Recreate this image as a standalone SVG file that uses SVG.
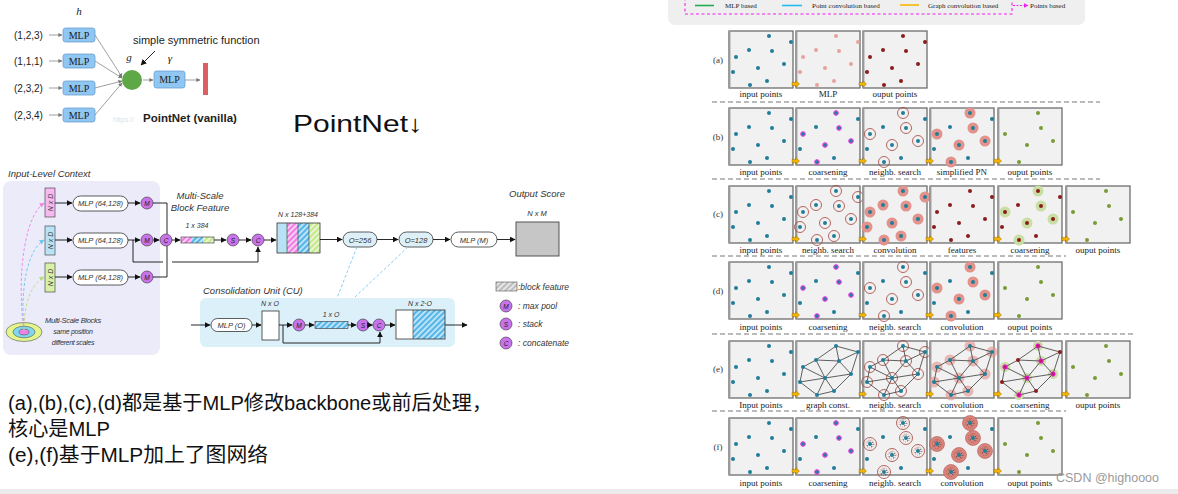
<svg xmlns="http://www.w3.org/2000/svg" xmlns:xlink="http://www.w3.org/1999/xlink" width="1178" height="494" viewBox="0 0 1178 494">
<style>
.sans{font-family:"Liberation Sans",Arial,sans-serif}
.it{font-family:"Liberation Sans",Arial,sans-serif;font-style:italic;fill:#333}
.ser{font-family:"Liberation Serif","Times New Roman",serif;fill:#222}
.lbl{font-family:"Liberation Serif","Times New Roman",serif;font-size:9px;fill:#222;text-anchor:middle}
.rowl{font-family:"Liberation Serif","Times New Roman",serif;font-size:9px;fill:#333;text-anchor:middle}
.mlpb{fill:#8fc6f2;stroke:#6a9fd0;stroke-width:0.8}
.thin{stroke:#888;stroke-width:0.8;fill:none}
.blk{stroke:#111;stroke-width:0.9;fill:none}
.pill{fill:#fff;stroke:#333;stroke-width:0.8}
.pillb{fill:#ddf0f8;stroke:#333;stroke-width:0.8}
.circ{fill:#c873ea;stroke:#333;stroke-width:0.6}
.cl{font-family:"Liberation Sans",Arial,sans-serif;font-size:6.5px;fill:#222;text-anchor:middle;font-style:italic}
.t{fill:#1f7f99}
.pk{fill:#e8a29d}
.dr{fill:#8a1c1c}
.gr{fill:#7a9a36}
.ring{fill:none;stroke:#a5413b;stroke-width:0.8}
.disc{fill:#e3928c}
.cjk{font-family:"Liberation Sans","Noto Sans CJK SC",sans-serif;font-size:20px;fill:#111}
</style>
<defs>
<marker id="ah" viewBox="0 0 10 10" refX="9" refY="5" markerWidth="6" markerHeight="6" orient="auto" markerUnits="userSpaceOnUse"><path d="M0,0 L10,5 L0,10z" fill="#111"/></marker>
<marker id="ahg" viewBox="0 0 10 10" refX="9" refY="5" markerWidth="4" markerHeight="4" orient="auto" markerUnits="userSpaceOnUse"><path d="M0,0 L10,5 L0,10z" fill="#777"/></marker>
<marker id="ahm" viewBox="0 0 10 10" refX="9" refY="5" markerWidth="5" markerHeight="5" orient="auto" markerUnits="userSpaceOnUse"><path d="M0,0 L10,5 L0,10z" fill="#ee22ee"/></marker>
<marker id="ahp" viewBox="0 0 10 10" refX="9" refY="5" markerWidth="5" markerHeight="5" orient="auto" markerUnits="userSpaceOnUse"><path d="M0,0 L10,5 L0,10z" fill="#f27fe6"/></marker>
<marker id="ahb" viewBox="0 0 10 10" refX="9" refY="5" markerWidth="5" markerHeight="5" orient="auto" markerUnits="userSpaceOnUse"><path d="M0,0 L10,5 L0,10z" fill="#6cc6ee"/></marker>
<marker id="ahl" viewBox="0 0 10 10" refX="9" refY="5" markerWidth="5" markerHeight="5" orient="auto" markerUnits="userSpaceOnUse"><path d="M0,0 L10,5 L0,10z" fill="#b8dc78"/></marker>
<pattern id="hpk" width="4" height="4" patternUnits="userSpaceOnUse" patternTransform="rotate(45)"><rect width="4" height="4" fill="#f07ee2"/><rect width="1.6" height="4" fill="#fff" opacity="0.75"/></pattern>
<pattern id="hbl" width="4" height="4" patternUnits="userSpaceOnUse" patternTransform="rotate(45)"><rect width="4" height="4" fill="#55b6ea"/><rect width="1.6" height="4" fill="#fff" opacity="0.75"/></pattern>
<pattern id="hgn" width="4" height="4" patternUnits="userSpaceOnUse" patternTransform="rotate(45)"><rect width="4" height="4" fill="#c6e88c"/><rect width="1.6" height="4" fill="#fff" opacity="0.75"/></pattern>
<pattern id="hgy" width="4" height="4" patternUnits="userSpaceOnUse" patternTransform="rotate(45)"><rect width="4" height="4" fill="#bdbdbd"/><rect width="1.6" height="4" fill="#fff" opacity="0.75"/></pattern>

<!-- panel background -->
<g id="bg"><rect x="0" y="0" width="64" height="57" fill="#f1f1f1" stroke="#6e6e6e" stroke-width="1.3"/><rect x="-0.6" y="0" width="2" height="57" fill="#9a9a9a"/></g>
<g id="ya"><path d="M0,-1.6 L4,-1.6 L4,-3.2 L7.5,0 L4,3.2 L4,1.6 L0,1.6z" fill="#f4b300" stroke="#7a5c00" stroke-width="0.4"/></g>

<!-- point sets -->
<g id="teal"><circle class="t" cx="40" cy="5" r="2"/><circle class="t" cx="62" cy="11" r="2"/><circle class="t" cx="20" cy="19" r="2"/><circle class="t" cx="43" cy="20" r="2"/><circle class="t" cx="7" cy="26" r="2"/><circle class="t" cx="55" cy="33" r="2"/><circle class="t" cx="29" cy="37" r="2"/><circle class="t" cx="4" cy="41" r="2"/><circle class="t" cx="21" cy="54" r="2"/><circle class="t" cx="38" cy="50" r="2"/></g>
<g id="pink"><circle class="pk" cx="40" cy="5" r="2"/><circle class="pk" cx="62" cy="11" r="2"/><circle class="pk" cx="20" cy="19" r="2"/><circle class="pk" cx="43" cy="20" r="2"/><circle class="pk" cx="7" cy="26" r="2"/><circle class="pk" cx="55" cy="33" r="2"/><circle class="pk" cx="29" cy="37" r="2"/><circle class="pk" cx="4" cy="41" r="2"/><circle class="pk" cx="21" cy="54" r="2"/><circle class="pk" cx="38" cy="50" r="2"/></g>
<g id="red"><circle class="dr" cx="40" cy="5" r="2"/><circle class="dr" cx="62" cy="11" r="2"/><circle class="dr" cx="20" cy="19" r="2"/><circle class="dr" cx="43" cy="20" r="2"/><circle class="dr" cx="7" cy="26" r="2"/><circle class="dr" cx="55" cy="33" r="2"/><circle class="dr" cx="29" cy="37" r="2"/><circle class="dr" cx="4" cy="41" r="2"/><circle class="dr" cx="21" cy="54" r="2"/><circle class="dr" cx="38" cy="50" r="2"/></g>
<g id="green"><circle class="gr" cx="40" cy="5" r="2"/><circle class="gr" cx="43" cy="20" r="2"/><circle class="gr" cx="7" cy="26" r="2"/><circle class="gr" cx="55" cy="33" r="2"/><circle class="gr" cx="29" cy="37" r="2"/><circle class="gr" cx="21" cy="54" r="2"/></g>
<g id="cmag"><use href="#teal"/><g fill="none" stroke="#e21ee2" stroke-width="1"><circle cx="40" cy="5" r="2.3"/><circle cx="43" cy="20" r="2.3"/><circle cx="7" cy="26" r="2.3"/><circle cx="55" cy="33" r="2.3"/><circle cx="29" cy="37" r="2.3"/><circle cx="21" cy="54" r="2.3"/></g></g>
<g id="ringc"><circle class="ring" cx="40" cy="5" r="5.5"/><circle class="ring" cx="43" cy="20" r="5.5"/><circle class="ring" cx="7" cy="26" r="5.5"/><circle class="ring" cx="55" cy="33" r="5.5"/><circle class="ring" cx="29" cy="37" r="5.5"/><circle class="ring" cx="21" cy="54" r="5.5"/></g>
<g id="discc"><circle class="disc" cx="40" cy="5" r="5.5"/><circle class="disc" cx="43" cy="20" r="5.5"/><circle class="disc" cx="7" cy="26" r="5.5"/><circle class="disc" cx="55" cy="33" r="5.5"/><circle class="disc" cx="29" cy="37" r="5.5"/><circle class="disc" cx="21" cy="54" r="5.5"/></g>
<g id="ringa"><use href="#ringc"/><circle class="ring" cx="62" cy="11" r="5.5"/><circle class="ring" cx="20" cy="19" r="5.5"/><circle class="ring" cx="4" cy="41" r="5.5"/><circle class="ring" cx="38" cy="50" r="5.5"/></g>
<g id="disca"><use href="#discc"/><circle class="disc" cx="62" cy="11" r="5.5"/><circle class="disc" cx="20" cy="19" r="5.5"/><circle class="disc" cx="4" cy="41" r="5.5"/><circle class="disc" cx="38" cy="50" r="5.5"/></g>
<g id="nbrc"><use href="#ringc"/><use href="#teal"/></g>
<g id="dc"><use href="#discc"/><use href="#teal"/></g>
<g id="nbra"><use href="#ringa"/><use href="#teal"/></g>
<g id="dca"><use href="#disca"/><use href="#teal"/></g>
<g id="cgr"><g fill="#c9dea3"><circle cx="40" cy="5" r="5.5"/><circle cx="43" cy="20" r="5.5"/><circle cx="7" cy="26" r="5.5"/><circle cx="55" cy="33" r="5.5"/><circle cx="29" cy="37" r="5.5"/><circle cx="21" cy="54" r="5.5"/></g><use href="#red"/></g>
<path id="edges" d="M40,5L62,11 M40,5L20,19 M40,5L43,20 M62,11L43,20 M62,11L55,33 M20,19L43,20 M20,19L7,26 M20,19L29,37 M43,20L29,37 M43,20L55,33 M7,26L29,37 M7,26L4,41 M29,37L4,41 M29,37L55,33 M29,37L38,50 M29,37L21,54 M4,41L21,54 M21,54L38,50 M38,50L55,33" fill="none" stroke="#3a3a3a" stroke-width="0.8"/>
<g id="graph"><use href="#edges"/><use href="#teal"/></g>
<g id="gnbr"><use href="#ringa"/><use href="#edges"/><use href="#teal"/></g>
<g id="gdisc"><g opacity="0.6"><use href="#disca"/></g><use href="#edges"/><use href="#teal"/></g>
<g id="gcoarse"><g fill="#c9dea3"><circle cx="40" cy="5" r="5"/><circle cx="43" cy="20" r="5"/><circle cx="7" cy="26" r="5"/><circle cx="55" cy="33" r="5"/><circle cx="29" cy="37" r="5"/><circle cx="21" cy="54" r="5"/></g><use href="#edges"/><use href="#red"/><g fill="#c0186a" stroke="#ee22ee" stroke-width="1"><circle cx="40" cy="5" r="2.2"/><circle cx="43" cy="20" r="2.2"/><circle cx="7" cy="26" r="2.2"/><circle cx="55" cy="33" r="2.2"/><circle cx="29" cy="37" r="2.2"/><circle cx="21" cy="54" r="2.2"/></g></g>
<g id="fdots"><circle r="0.5" cx="-2" cy="-2" fill="#333"/><circle r="0.5" cx="2.3" cy="-1.5" fill="#333"/><circle r="0.5" cx="-2.5" cy="1.8" fill="#333"/><circle r="0.5" cx="1.8" cy="2.4" fill="#333"/><circle r="0.5" cx="0" cy="-3" fill="#333"/><circle r="0.5" cx="3" cy="0.6" fill="#333"/></g>
<g id="fring"><circle class="ring" r="6.5"/><circle r="4" fill="none" stroke="#a5413b" stroke-width="0.5" stroke-dasharray="1,1"/><use href="#fdots"/></g>
<g id="fdisc"><circle r="7.5" fill="#d9847d" stroke="#b0554f" stroke-width="0.6"/><circle r="4.5" fill="none" stroke="#8a3a35" stroke-width="0.5" stroke-dasharray="1,1"/><use href="#fdots"/></g>
<g id="fnbr"><use href="#teal"/><use href="#fring" x="40" y="5"/><use href="#fring" x="43" y="20"/><use href="#fring" x="7" y="26"/><use href="#fring" x="55" y="33"/><use href="#fring" x="29" y="37"/><use href="#fring" x="21" y="54"/></g>
<g id="fconv"><use href="#fdisc" x="40" y="5"/><use href="#fdisc" x="43" y="20"/><use href="#fdisc" x="7" y="26"/><use href="#fdisc" x="55" y="33"/><use href="#fdisc" x="29" y="37"/><use href="#fdisc" x="21" y="54"/><use href="#teal"/></g>
</defs>

<rect width="1178" height="494" fill="#fff"/>
<rect x="0" y="489" width="1178" height="5" fill="#ebebeb"/>

<!-- ============ PointNet vanilla ============ -->
<g id="pointnet-vanilla">
<text class="ser" x="79" y="15" font-size="11" font-style="italic" text-anchor="middle">h</text>
<g class="sans" font-size="10" fill="#222">
<text x="14" y="39">(1,2,3)</text><text x="14" y="65">(1,1,1)</text><text x="14" y="92">(2,3,2)</text><text x="14" y="119">(2,3,4)</text>
</g>
<g class="thin" marker-end="url(#ahg)"><path d="M49,35H62"/><path d="M49,61H62"/><path d="M49,88H62"/><path d="M49,115H62"/></g>
<g id="mlp1"><rect class="mlpb" x="63" y="28" width="32" height="14" rx="2.5"/><text class="ser" x="79" y="39" font-size="10" text-anchor="middle">MLP</text></g>
<g id="mlp2"><rect class="mlpb" x="63" y="54" width="32" height="14" rx="2.5"/><text class="ser" x="79" y="65" font-size="10" text-anchor="middle">MLP</text></g>
<g id="mlp3"><rect class="mlpb" x="63" y="81" width="32" height="14" rx="2.5"/><text class="ser" x="79" y="92" font-size="10" text-anchor="middle">MLP</text></g>
<g id="mlp4"><rect class="mlpb" x="63" y="108" width="32" height="14" rx="2.5"/><text class="ser" x="79" y="119" font-size="10" text-anchor="middle">MLP</text></g>
<g class="thin" marker-end="url(#ahg)"><path d="M95,35L122,77"/><path d="M95,61L122,78"/><path d="M95,88L122,81"/><path d="M95,115L122,83"/></g>
<circle id="g-node" cx="132" cy="80" r="10" fill="#5ea847"/>
<text class="ser" x="129" y="61" font-size="11" font-style="italic" text-anchor="middle">g</text>
<text class="ser" x="170" y="62" font-size="11" font-style="italic" text-anchor="middle">γ</text>
<text class="sans" x="133" y="44" font-size="11" fill="#222">simple symmetric function</text>
<path d="M155,51L141,65" class="blk" stroke-width="1.3" marker-end="url(#ah)"/>
<path d="M143,80H153" class="thin" marker-end="url(#ahg)"/>
<g id="mlp5"><rect class="mlpb" x="154" y="71" width="31" height="17" rx="2.5"/><text class="ser" x="169.5" y="83" font-size="10" text-anchor="middle">MLP</text></g>
<path d="M185,80H200" class="thin" marker-end="url(#ahg)"/>
<rect x="203" y="63" width="5" height="32" fill="#dc5f66"/>
<text class="sans" x="113" y="122" font-size="7" fill="#e2e2e2">https://</text>
<text class="sans" x="143" y="122" font-size="11.5" font-weight="bold" fill="#222">PointNet (vanilla)</text>
</g>

<text class="sans" x="293" y="132" font-size="24" fill="#111" textLength="130" lengthAdjust="spacingAndGlyphs">PointNet↓</text>

<!-- ============ Multi-scale diagram ============ -->
<g id="input-level">
<text class="it" x="8" y="177" font-size="9.5">Input-Level Context</text>
<rect x="3" y="181" width="157" height="174" rx="8" fill="#ebebfa"/>
<g id="nxd1"><rect x="45" y="188" width="10" height="29" fill="#f6b9f0" stroke="#333" stroke-width="0.6"/><text class="it" font-size="7" text-anchor="middle" transform="translate(52.5,202.5) rotate(-90)">N x D</text></g>
<g id="nxd2"><rect x="45" y="226" width="10" height="29" fill="#b9e3f5" stroke="#333" stroke-width="0.6"/><text class="it" font-size="7" text-anchor="middle" transform="translate(52.5,240.5) rotate(-90)">N x D</text></g>
<g id="nxd3"><rect x="45" y="263" width="10" height="29" fill="#d9f0a9" stroke="#333" stroke-width="0.6"/><text class="it" font-size="7" text-anchor="middle" transform="translate(52.5,277.5) rotate(-90)">N x D</text></g>
<g id="mlpa"><rect class="pill" x="73" y="196" width="55" height="15" rx="7.5"/><text class="it" x="100.5" y="206" font-size="7.5" text-anchor="middle">MLP (64,128)</text></g>
<g id="mlpb"><rect class="pill" x="73" y="233" width="55" height="15" rx="7.5"/><text class="it" x="100.5" y="243" font-size="7.5" text-anchor="middle">MLP (64,128)</text></g>
<g id="mlpc"><rect class="pill" x="73" y="270" width="55" height="15" rx="7.5"/><text class="it" x="100.5" y="280" font-size="7.5" text-anchor="middle">MLP (64,128)</text></g>
<g id="m1"><circle class="circ" cx="147" cy="203" r="6"/><text class="cl" x="147" y="205.5">M</text></g>
<g id="m2"><circle class="circ" cx="147" cy="240" r="6"/><text class="cl" x="147" y="242.5">M</text></g>
<g id="m3"><circle class="circ" cx="147" cy="277" r="6"/><text class="cl" x="147" y="279.5">M</text></g>
<g id="msb">
<ellipse cx="24" cy="332" rx="18" ry="9.5" fill="#e4f58c" stroke="#555" stroke-width="0.6"/>
<ellipse cx="24" cy="332" rx="11" ry="5.8" fill="#7fd6ef" stroke="#555" stroke-width="0.6"/>
<ellipse cx="24" cy="332" rx="5" ry="2.8" fill="#f27fe6" stroke="#555" stroke-width="0.6"/>
</g>
<text class="it" x="73" y="323" font-size="7.5" text-anchor="middle" letter-spacing="-0.3">Multi-Scale Blocks</text>
<text class="it" x="73" y="334" font-size="7" text-anchor="middle" fill="#555" letter-spacing="-0.3">same position</text>
<text class="it" x="73" y="345" font-size="7" text-anchor="middle" fill="#555" letter-spacing="-0.3">different scales</text>
</g>

<g id="msbf">
<text class="it" x="200" y="199" font-size="9.5" text-anchor="middle">Multi-Scale</text>
<text class="it" x="200" y="211" font-size="9.5" text-anchor="middle">Block Feature</text>
<g id="c1"><circle class="circ" cx="166" cy="240" r="6"/><text class="cl" x="166" y="242.5">C</text></g>
<text class="it" x="197" y="228" font-size="7" text-anchor="middle">1 x 384</text>
<rect x="181" y="237" width="11" height="6" fill="url(#hpk)"/><rect x="192" y="237" width="11" height="6" fill="url(#hbl)"/><rect x="203" y="237" width="11" height="6" fill="url(#hgn)"/>
<rect x="181" y="237" width="33" height="6" fill="none" stroke="#333" stroke-width="0.6"/>
<g id="s1"><circle class="circ" cx="233" cy="240" r="6"/><text class="cl" x="233" y="242.5">S</text></g>
<g id="c2"><circle class="circ" cx="258" cy="240" r="6"/><text class="cl" x="258" y="242.5">C</text></g>
<text class="it" x="298" y="217" font-size="7" text-anchor="middle">N x 128+384</text>
<rect x="277" y="223" width="10" height="30" fill="#b9e3f5"/><rect x="287" y="223" width="11" height="30" fill="url(#hpk)"/><rect x="298" y="223" width="11" height="30" fill="url(#hbl)"/><rect x="309" y="223" width="11" height="30" fill="url(#hgn)"/>
<path d="M287,223V253M298,223V253M309,223V253" stroke="#333" stroke-width="0.6"/>
<rect x="277" y="223" width="43" height="30" fill="none" stroke="#333" stroke-width="0.8"/>
<g id="o256"><rect class="pillb" x="343" y="232" width="34" height="15" rx="7.5"/><text class="it" x="360" y="242.5" font-size="7.5" text-anchor="middle">O=256</text></g>
<g id="o128"><rect class="pillb" x="399" y="232" width="34" height="15" rx="7.5"/><text class="it" x="416" y="242.5" font-size="7.5" text-anchor="middle">O=128</text></g>
<g id="mlpm"><rect class="pill" x="451" y="232" width="46" height="15" rx="7.5"/><text class="it" x="474" y="242.5" font-size="7.5" text-anchor="middle">MLP (M)</text></g>
<text class="it" x="537" y="197" font-size="9.5" text-anchor="middle">Output Score</text>
<text class="it" x="537" y="216" font-size="7.5" text-anchor="middle">N x M</text>
<rect id="out" x="516" y="222" width="43" height="34" fill="#c6c6c6" stroke="#444" stroke-width="0.9"/>
</g>

<g id="cu">
<text class="it" x="203" y="294" font-size="9.5">Consolidation Unit (CU)</text>
<rect x="200" y="298" width="255" height="49" rx="6" fill="#dcf0fa"/>
<g id="mlpo"><rect class="pill" x="211" y="318.5" width="41" height="13" rx="6.5"/><text class="it" x="231.5" y="328" font-size="7.5" text-anchor="middle">MLP (O)</text></g>
<text class="it" x="270" y="306" font-size="7" text-anchor="middle">N x O</text>
<rect x="262" y="311" width="17" height="29" fill="#fff" stroke="#333" stroke-width="0.8"/>
<g id="m4"><circle class="circ" cx="299" cy="325" r="6"/><text class="cl" x="299" y="327.5">M</text></g>
<text class="it" x="331" y="317" font-size="7" text-anchor="middle">1 x O</text>
<rect x="315" y="321.5" width="33" height="7" fill="url(#hbl)" stroke="#333" stroke-width="0.6"/>
<g id="s2"><circle class="circ" cx="363" cy="325" r="6"/><text class="cl" x="363" y="327.5">S</text></g>
<g id="c3"><circle class="circ" cx="379" cy="325" r="6"/><text class="cl" x="379" y="327.5">C</text></g>
<text class="it" x="420" y="306" font-size="7" text-anchor="middle">N x 2·O</text>
<rect x="396" y="310" width="17" height="29" fill="#fff"/><rect x="413" y="310" width="32" height="29" fill="url(#hbl)"/>
<rect x="396" y="310" width="49" height="29" fill="none" stroke="#333" stroke-width="0.8"/>
<path d="M413,310V339" stroke="#333" stroke-width="0.6"/>
</g>

<g id="legend-left">
<rect x="496" y="282" width="21" height="9" fill="url(#hgy)" stroke="#555" stroke-width="0.6"/>
<text class="it" x="518" y="290" font-size="8.5">:block feature</text>
<g><circle class="circ" cx="506" cy="306" r="6"/><text class="cl" x="506" y="308.5">M</text></g>
<text class="it" x="518" y="309" font-size="8.5">: max pool</text>
<g><circle class="circ" cx="506" cy="324" r="6"/><text class="cl" x="506" y="326.5">S</text></g>
<text class="it" x="518" y="327" font-size="8.5">: stack</text>
<g><circle class="circ" cx="506" cy="343" r="6"/><text class="cl" x="506" y="345.5">C</text></g>
<text class="it" x="518" y="346" font-size="8.5">: concatenate</text>
</g>

<g id="connectors">
<g stroke-dasharray="3,2" fill="none" stroke-width="0.9">
<path d="M24,331 C16,270 26,215 44,203" stroke="#f27fe6" marker-end="url(#ahp)"/>
<path d="M24,331 C20,285 28,250 44,240" stroke="#6cc6ee" marker-end="url(#ahb)"/>
<path d="M24,331 C24,305 30,285 44,277" stroke="#b8dc78" marker-end="url(#ahl)"/>
</g>
<g class="blk" marker-end="url(#ah)">
<path d="M55,203H72"/><path d="M55,240H72"/><path d="M55,277H72"/>
<path d="M128,203H140"/><path d="M128,240H140"/><path d="M128,277H140"/>
<path d="M153,240H159"/>
<path d="M172,240H180"/>
<path d="M214,240H226"/>
<path d="M239,240H251"/>
<path d="M264,240H276"/>
<path d="M320,239.5H342"/>
<path d="M377,239.5H398"/>
<path d="M433,239.5H450"/>
<path d="M497,239.5H515"/>
<path d="M258,262V247"/>
<path d="M191,325H210"/>
<path d="M252,325H261"/>
<path d="M279,325H292"/>
<path d="M305,325H314"/>
<path d="M348,325H356"/>
<path d="M369,325H372.5"/>
<path d="M385,325H395"/>
<path d="M445,325H467"/>
<path d="M380,343V332"/>
</g>
<g class="blk">
<path d="M153,203H167V234"/>
<path d="M153,277H167V246"/>
<path d="M133,240V262H163M172,262H258"/>
<path d="M283,325V343H380"/>
</g>
<g stroke="#7cc8f0" stroke-width="0.9" stroke-dasharray="3,2" fill="none">
<path d="M357,247L337,298"/><path d="M408,247L355,297"/>
</g>
</g>

<!-- bottom-left CJK text -->
<text class="cjk" x="8" y="410" textLength="484" lengthAdjust="spacingAndGlyphs">(a),(b),(c),(d)都是基于MLP修改backbone或前后处理，</text>
<text class="cjk" x="8" y="436" textLength="102" lengthAdjust="spacingAndGlyphs">核心是MLP</text>
<text class="cjk" x="8" y="462" textLength="260" lengthAdjust="spacingAndGlyphs">(e),(f)基于MLP加上了图网络</text>

<!-- ============ right: legend ============ -->
<g id="legend-right">
<rect x="668" y="-10" width="417" height="35" rx="7" fill="#efefef"/>
<rect x="685" y="-6" width="327" height="20" fill="none" stroke="#ee22ee" stroke-width="1.1" stroke-dasharray="3,2.5"/>
<path d="M695,5.5H714" stroke="#22aa55" stroke-width="1.6"/>
<text class="ser" x="725" y="8" font-size="7" fill="#444">MLP based</text>
<path d="M782,5.5H802" stroke="#22bbee" stroke-width="1.6"/>
<text class="ser" x="812" y="8" font-size="7" fill="#444">Point convolution based</text>
<path d="M900,5H919" stroke="#f5b800" stroke-width="1.6"/>
<text class="ser" x="928" y="8" font-size="7" fill="#444">Graph convolution based</text>
<path d="M1013,5.5H1028" stroke="#ee22ee" stroke-width="1" stroke-dasharray="2,1.5" marker-end="url(#ahm)"/>
<text class="ser" x="1030" y="8" font-size="7" fill="#444">Points based</text>
</g>

<!-- separators -->
<g stroke="#777" stroke-width="1" stroke-dasharray="5,3">
<path d="M712,102H1100"/><path d="M712,179H1100"/><path d="M712,256H1066"/><path d="M712,334H1133"/><path d="M712,411H1066"/>
</g>

<!-- row (a) -->
<g id="row-a">
<text class="rowl" x="718" y="63">(a)</text>
<use href="#bg" x="729" y="31"/><use href="#teal" x="729" y="31"/>
<use href="#bg" x="796" y="31"/><use href="#pink" x="796" y="31"/>
<use href="#bg" x="863" y="31"/><use href="#red" x="863" y="31"/>
<use href="#ya" x="792" y="84"/><use href="#ya" x="859" y="84"/>
<text class="lbl" x="761" y="97">input points</text><text class="lbl" x="828" y="97">MLP</text><text class="lbl" x="895" y="97">ouput points</text>
</g>

<!-- row (b) -->
<g id="row-b">
<text class="rowl" x="718" y="140">(b)</text>
<use href="#bg" x="729" y="108"/><use href="#teal" x="729" y="108"/>
<use href="#bg" x="796" y="108"/><use href="#cmag" x="796" y="108"/>
<use href="#bg" x="863" y="108"/><use href="#nbrc" x="863" y="108"/>
<use href="#bg" x="930" y="108"/><use href="#dc" x="930" y="108"/>
<use href="#bg" x="998" y="108"/><use href="#green" x="998" y="108"/>
<use href="#ya" x="792" y="161"/><use href="#ya" x="859" y="161"/><use href="#ya" x="926" y="161"/><use href="#ya" x="994" y="161"/>
<text class="lbl" x="761" y="175">input points</text><text class="lbl" x="828" y="175">coarsening</text><text class="lbl" x="895" y="175">neighb. search</text><text class="lbl" x="962" y="175">simplified PN</text><text class="lbl" x="1030" y="175">ouput points</text>
</g>

<!-- row (c) -->
<g id="row-c">
<text class="rowl" x="718" y="217">(c)</text>
<use href="#bg" x="729" y="186"/><use href="#teal" x="729" y="186"/>
<use href="#bg" x="796" y="186"/><use href="#nbra" x="796" y="186"/>
<use href="#bg" x="863" y="186"/><use href="#dca" x="863" y="186"/>
<use href="#bg" x="930" y="186"/><use href="#red" x="930" y="186"/>
<use href="#bg" x="998" y="186"/><use href="#cgr" x="998" y="186"/>
<use href="#bg" x="1066" y="186"/><use href="#green" x="1066" y="186"/>
<use href="#ya" x="792" y="239"/><use href="#ya" x="859" y="239"/><use href="#ya" x="926" y="239"/><use href="#ya" x="994" y="239"/><use href="#ya" x="1062" y="239"/>
<text class="lbl" x="761" y="253">input points</text><text class="lbl" x="828" y="253">neighb. search</text><text class="lbl" x="895" y="253">convolution</text><text class="lbl" x="962" y="253">features</text><text class="lbl" x="1030" y="253">coarsening</text><text class="lbl" x="1098" y="253">ouput points</text>
</g>

<!-- row (d) -->
<g id="row-d">
<text class="rowl" x="718" y="294">(d)</text>
<use href="#bg" x="729" y="262"/><use href="#teal" x="729" y="262"/>
<use href="#bg" x="796" y="262"/><use href="#cmag" x="796" y="262"/>
<use href="#bg" x="863" y="262"/><use href="#nbrc" x="863" y="262"/>
<use href="#bg" x="930" y="262"/><use href="#dc" x="930" y="262"/>
<use href="#bg" x="998" y="262"/><use href="#green" x="998" y="262"/>
<use href="#ya" x="792" y="315"/><use href="#ya" x="859" y="315"/><use href="#ya" x="926" y="315"/><use href="#ya" x="994" y="315"/>
<text class="lbl" x="761" y="330">input points</text><text class="lbl" x="828" y="330">coarsening</text><text class="lbl" x="895" y="330">neighb. search</text><text class="lbl" x="962" y="330">convolution</text><text class="lbl" x="1030" y="330">ouput points</text>
</g>

<!-- row (e) -->
<g id="row-e">
<text class="rowl" x="718" y="372">(e)</text>
<use href="#bg" x="729" y="341"/><use href="#teal" x="729" y="341"/>
<use href="#bg" x="796" y="341"/><use href="#graph" x="796" y="341"/>
<use href="#bg" x="863" y="341"/><use href="#gnbr" x="863" y="341"/>
<use href="#bg" x="930" y="341"/><use href="#gdisc" x="930" y="341"/>
<use href="#bg" x="998" y="341"/><use href="#gcoarse" x="998" y="341"/>
<use href="#bg" x="1066" y="341"/><use href="#green" x="1066" y="341"/>
<use href="#ya" x="792" y="394"/><use href="#ya" x="859" y="394"/><use href="#ya" x="926" y="394"/><use href="#ya" x="994" y="394"/><use href="#ya" x="1062" y="394"/>
<text class="lbl" x="761" y="408">Input points</text><text class="lbl" x="828" y="408">graph const.</text><text class="lbl" x="895" y="408">neighb. search</text><text class="lbl" x="962" y="408">convolution</text><text class="lbl" x="1030" y="408">coarsening</text><text class="lbl" x="1098" y="408">ouput points</text>
</g>

<!-- row (f) -->
<g id="row-f">
<text class="rowl" x="718" y="450">(f)</text>
<use href="#bg" x="729" y="418"/><use href="#teal" x="729" y="418"/>
<use href="#bg" x="796" y="418"/><use href="#cmag" x="796" y="418"/>
<use href="#bg" x="863" y="418"/><use href="#fnbr" x="863" y="418"/>
<use href="#bg" x="930" y="418"/><use href="#fconv" x="930" y="418"/>
<use href="#bg" x="998" y="418"/><use href="#green" x="998" y="418"/>
<use href="#ya" x="792" y="471"/><use href="#ya" x="859" y="471"/><use href="#ya" x="926" y="471"/><use href="#ya" x="994" y="471"/>
<text class="lbl" x="761" y="486">input points</text><text class="lbl" x="828" y="486">coarsening</text><text class="lbl" x="895" y="486">neighb. search</text><text class="lbl" x="962" y="486">convolution</text><text class="lbl" x="1030" y="486">ouput points</text>
</g>

<text class="sans" x="1056" y="482" font-size="12.5" fill="#9a9a9a">CSDN @highoooo</text>
</svg>
